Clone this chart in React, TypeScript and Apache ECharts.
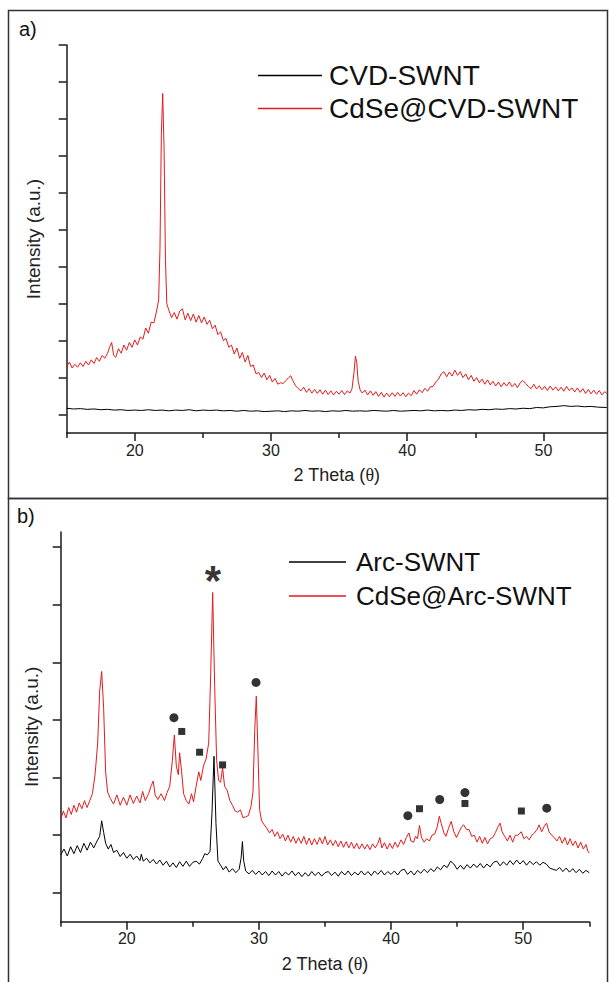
import React, { useEffect, useRef } from "react";
import * as echarts from "echarts";

// ---------- data (2θ in degrees, intensity in arbitrary units = y tick steps) ----------
const cvdSwnt: [number, number][] = [
  [15.0, 0.17], [15.5, 0.15], [16.0, 0.16], [16.5, 0.14], [17.0, 0.15], [17.5, 0.13], [18.0, 0.14], [18.5, 0.12],
  [19.0, 0.13], [19.5, 0.11], [20.0, 0.12], [20.5, 0.11], [21.0, 0.13], [21.5, 0.11], [22.0, 0.12], [22.5, 0.1],
  [23.0, 0.12], [23.5, 0.11], [24.0, 0.13], [24.5, 0.1], [25.0, 0.12], [25.5, 0.11], [26.0, 0.12], [26.5, 0.1],
  [27.0, 0.11], [27.5, 0.09], [28.0, 0.11], [28.5, 0.09], [29.0, 0.1], [29.5, 0.08], [30.0, 0.09], [30.5, 0.1],
  [31.0, 0.08], [31.5, 0.1], [32.0, 0.09], [32.5, 0.11], [33.0, 0.09], [33.5, 0.1], [34.0, 0.08], [34.5, 0.1],
  [35.0, 0.09], [35.5, 0.11], [36.0, 0.09], [36.5, 0.1], [37.0, 0.09], [37.5, 0.11], [38.0, 0.1], [38.5, 0.09],
  [39.0, 0.11], [39.5, 0.09], [40.0, 0.1], [40.5, 0.11], [41.0, 0.1], [41.5, 0.12], [42.0, 0.1], [42.5, 0.11],
  [43.0, 0.1], [43.5, 0.12], [44.0, 0.11], [44.5, 0.13], [45.0, 0.12], [45.5, 0.14], [46.0, 0.13], [46.5, 0.15],
  [47.0, 0.14], [47.5, 0.16], [48.0, 0.15], [48.5, 0.17], [49.0, 0.16], [49.5, 0.19], [50.0, 0.18], [50.5, 0.21],
  [51.0, 0.22], [51.5, 0.24], [52.0, 0.22], [52.5, 0.23], [53.0, 0.21], [53.5, 0.22], [54.0, 0.2], [54.65, 0.19],
];

const cdseCvdSwnt: [number, number][] = [
  [15.0, 1.3], [15.2, 1.42], [15.4, 1.26], [15.6, 1.36], [15.8, 1.28], [16.0, 1.4], [16.2, 1.3], [16.4, 1.44],
  [16.6, 1.34], [16.8, 1.48], [17.0, 1.38], [17.2, 1.54], [17.4, 1.44], [17.6, 1.6], [17.8, 1.52], [18.0, 1.66],
  [18.15, 1.82], [18.3, 1.95], [18.45, 1.6], [18.6, 1.55], [18.8, 1.78], [19.0, 1.66], [19.2, 1.88], [19.4, 1.74],
  [19.6, 1.95], [19.8, 1.82], [20.0, 2.02], [20.2, 1.88], [20.4, 2.1], [20.6, 2.04], [20.8, 2.34], [21.0, 2.2],
  [21.2, 2.5], [21.4, 2.48], [21.6, 2.8], [21.75, 3.1], [21.85, 4.5], [21.95, 7.6], [22.05, 8.69], [22.15, 7.2],
  [22.25, 4.2], [22.35, 3.0], [22.5, 2.82], [22.7, 2.62], [22.9, 2.76], [23.1, 2.58], [23.3, 2.8], [23.5, 2.86],
  [23.7, 2.56], [23.9, 2.74], [24.1, 2.54], [24.3, 2.72], [24.5, 2.5], [24.7, 2.68], [24.9, 2.48], [25.1, 2.64],
  [25.3, 2.44], [25.5, 2.55], [25.7, 2.32], [25.9, 2.42], [26.1, 2.16], [26.3, 2.24], [26.5, 2.0], [26.7, 2.06],
  [26.9, 1.82], [27.1, 1.88], [27.3, 1.64], [27.5, 1.8], [27.7, 1.52], [27.9, 1.68], [28.1, 1.42], [28.3, 1.6],
  [28.5, 1.3], [28.7, 1.34], [28.9, 1.1], [29.1, 1.14], [29.3, 1.0], [29.5, 1.12], [29.7, 0.94], [29.9, 1.06],
  [30.1, 0.88], [30.3, 0.98], [30.5, 0.82], [30.7, 0.86], [30.9, 0.84], [31.1, 0.92], [31.3, 1.0], [31.45, 1.05],
  [31.6, 0.92], [31.8, 0.78], [32.0, 0.7], [32.2, 0.64], [32.4, 0.74], [32.6, 0.6], [32.8, 0.7], [33.0, 0.58],
  [33.2, 0.68], [33.4, 0.57], [33.6, 0.67], [33.8, 0.55], [34.0, 0.66], [34.2, 0.54], [34.4, 0.64], [34.6, 0.53],
  [34.8, 0.63], [35.0, 0.55], [35.2, 0.65], [35.4, 0.54], [35.6, 0.64], [35.8, 0.58], [35.95, 0.7], [36.1, 1.15],
  [36.2, 1.58], [36.3, 1.4], [36.4, 0.9], [36.55, 0.66], [36.7, 0.58], [36.9, 0.66], [37.1, 0.53], [37.3, 0.64],
  [37.5, 0.52], [37.7, 0.62], [37.9, 0.49], [38.1, 0.6], [38.3, 0.47], [38.5, 0.58], [38.7, 0.48], [38.9, 0.59],
  [39.1, 0.49], [39.3, 0.6], [39.5, 0.5], [39.7, 0.59], [39.9, 0.48], [40.1, 0.58], [40.3, 0.51], [40.5, 0.65],
  [40.7, 0.55], [40.9, 0.67], [41.1, 0.59], [41.3, 0.71], [41.5, 0.63], [41.7, 0.75], [41.9, 0.76], [42.1, 0.88],
  [42.3, 0.96], [42.5, 1.1], [42.7, 1.16], [42.9, 1.02], [43.1, 1.15], [43.3, 1.04], [43.5, 1.2], [43.7, 1.06],
  [43.9, 1.16], [44.1, 1.0], [44.3, 1.1], [44.5, 0.94], [44.7, 1.06], [44.9, 0.9], [45.1, 1.0], [45.3, 0.86],
  [45.5, 0.96], [45.7, 0.82], [45.9, 0.94], [46.1, 0.8], [46.3, 0.9], [46.5, 0.77], [46.7, 0.88], [46.9, 0.75],
  [47.1, 0.86], [47.3, 0.77], [47.5, 0.88], [47.7, 0.75], [47.9, 0.84], [48.1, 0.73], [48.3, 0.86], [48.5, 0.92],
  [48.7, 0.84], [48.9, 0.76], [49.1, 0.7], [49.3, 0.82], [49.5, 0.69], [49.7, 0.78], [49.9, 0.67], [50.1, 0.76],
  [50.3, 0.65], [50.5, 0.77], [50.7, 0.66], [50.9, 0.75], [51.1, 0.64], [51.3, 0.74], [51.5, 0.63], [51.7, 0.76],
  [51.9, 0.65], [52.1, 0.72], [52.3, 0.61], [52.5, 0.72], [52.7, 0.6], [52.9, 0.7], [53.1, 0.57], [53.3, 0.68],
  [53.5, 0.56], [53.7, 0.66], [53.9, 0.55], [54.1, 0.65], [54.3, 0.53], [54.5, 0.62], [54.65, 0.57],
];

const arcSwnt: [number, number][] = [
  [15.0, 0.66], [15.25, 0.76], [15.5, 0.64], [15.75, 0.8], [16.0, 0.68], [16.25, 0.82], [16.5, 0.7], [16.75, 0.86],
  [17.0, 0.74], [17.25, 0.88], [17.5, 0.78], [17.75, 0.9], [17.95, 0.98], [18.1, 1.25], [18.25, 1.05], [18.4, 0.86],
  [18.6, 0.76], [18.8, 0.84], [19.0, 0.7], [19.25, 0.74], [19.5, 0.63], [19.75, 0.7], [20.0, 0.6], [20.25, 0.67],
  [20.5, 0.58], [20.75, 0.64], [21.0, 0.56], [21.1, 0.67], [21.25, 0.55], [21.5, 0.6], [21.75, 0.52], [22.0, 0.58],
  [22.25, 0.5], [22.5, 0.57], [22.75, 0.48], [23.0, 0.55], [23.25, 0.45], [23.5, 0.52], [23.75, 0.44], [24.0, 0.54],
  [24.25, 0.46], [24.5, 0.55], [24.75, 0.46], [25.0, 0.53], [25.25, 0.55], [25.5, 0.5], [25.75, 0.6], [25.9, 0.68],
  [26.1, 0.66], [26.3, 0.72], [26.45, 1.4], [26.6, 2.37], [26.75, 1.2], [26.9, 0.55], [27.1, 0.48], [27.3, 0.4],
  [27.5, 0.46], [27.75, 0.36], [28.0, 0.42], [28.25, 0.35], [28.5, 0.41], [28.65, 0.6], [28.75, 0.89], [28.85, 0.55],
  [29.0, 0.38], [29.25, 0.33], [29.5, 0.39], [29.75, 0.32], [30.0, 0.38], [30.25, 0.31], [30.5, 0.37], [30.75, 0.3],
  [31.0, 0.38], [31.25, 0.31], [31.5, 0.37], [31.75, 0.29], [32.0, 0.36], [32.25, 0.31], [32.5, 0.38], [32.75, 0.3],
  [33.0, 0.36], [33.25, 0.28], [33.5, 0.35], [33.75, 0.29], [34.0, 0.37], [34.25, 0.3], [34.5, 0.36], [34.75, 0.29],
  [35.0, 0.35], [35.25, 0.37], [35.5, 0.3], [35.75, 0.36], [36.0, 0.29], [36.25, 0.37], [36.5, 0.31], [36.75, 0.38],
  [37.0, 0.3], [37.25, 0.36], [37.5, 0.31], [37.75, 0.38], [38.0, 0.31], [38.25, 0.37], [38.5, 0.3], [38.75, 0.38],
  [39.0, 0.32], [39.25, 0.39], [39.5, 0.31], [39.75, 0.37], [40.0, 0.32], [40.25, 0.38], [40.5, 0.31], [40.75, 0.39],
  [41.0, 0.41], [41.25, 0.32], [41.5, 0.38], [41.75, 0.31], [42.0, 0.39], [42.25, 0.34], [42.5, 0.41], [42.75, 0.35],
  [43.0, 0.42], [43.25, 0.37], [43.5, 0.45], [43.75, 0.4], [44.0, 0.48], [44.25, 0.44], [44.5, 0.55], [44.75, 0.5],
  [45.0, 0.41], [45.25, 0.48], [45.5, 0.41], [45.75, 0.49], [46.0, 0.43], [46.25, 0.5], [46.5, 0.44], [46.75, 0.51],
  [47.0, 0.43], [47.25, 0.5], [47.5, 0.45], [47.75, 0.53], [48.0, 0.55], [48.25, 0.47], [48.5, 0.54], [48.75, 0.48],
  [49.0, 0.56], [49.25, 0.49], [49.5, 0.57], [49.75, 0.5], [50.0, 0.56], [50.25, 0.48], [50.5, 0.55], [50.75, 0.49],
  [51.0, 0.54], [51.25, 0.48], [51.5, 0.53], [51.75, 0.5], [52.0, 0.43], [52.25, 0.41], [52.5, 0.39], [52.75, 0.44],
  [53.0, 0.37], [53.25, 0.43], [53.5, 0.36], [53.75, 0.42], [54.0, 0.35], [54.25, 0.41], [54.5, 0.34], [54.75, 0.39],
  [55.0, 0.35],
];

const cdseArcSwnt: [number, number][] = [
  [15.0, 1.27], [15.2, 1.42], [15.4, 1.3], [15.6, 1.48], [15.8, 1.36], [16.0, 1.52], [16.2, 1.4], [16.4, 1.56],
  [16.6, 1.46], [16.8, 1.6], [17.0, 1.48], [17.2, 1.6], [17.4, 1.72], [17.6, 2.05], [17.8, 2.6], [17.95, 3.5],
  [18.1, 3.84], [18.25, 3.2], [18.4, 2.1], [18.55, 1.75], [18.75, 1.64], [19.0, 1.54], [19.25, 1.7], [19.5, 1.52],
  [19.75, 1.66], [20.0, 1.52], [20.25, 1.7], [20.5, 1.55], [20.75, 1.68], [21.0, 1.56], [21.2, 1.76], [21.4, 1.6],
  [21.65, 1.72], [21.85, 1.86], [22.0, 1.94], [22.15, 1.7], [22.35, 1.62], [22.6, 1.72], [22.85, 1.6], [23.05, 1.74],
  [23.25, 1.85], [23.45, 2.3], [23.6, 2.74], [23.75, 2.2], [23.9, 2.05], [24.0, 2.43], [24.15, 2.1], [24.3, 1.72],
  [24.5, 1.6], [24.7, 1.54], [24.9, 1.72], [25.05, 1.58], [25.25, 1.85], [25.45, 2.1], [25.6, 1.95], [25.8, 2.2],
  [26.0, 2.32], [26.2, 2.6], [26.35, 3.8], [26.5, 5.21], [26.65, 3.6], [26.8, 2.3], [26.95, 1.95], [27.1, 1.92],
  [27.25, 2.17], [27.4, 1.85], [27.6, 1.78], [27.8, 1.6], [28.0, 1.52], [28.2, 1.42], [28.4, 1.4], [28.6, 1.44],
  [28.8, 1.3], [29.0, 1.32], [29.2, 1.34], [29.4, 1.5], [29.55, 1.75], [29.68, 2.8], [29.8, 3.41], [29.92, 2.5],
  [30.05, 1.45], [30.2, 1.25], [30.4, 1.18], [30.6, 1.12], [30.8, 1.04], [31.0, 1.1], [31.2, 0.98], [31.4, 1.06],
  [31.6, 0.94], [31.8, 1.02], [32.0, 0.9], [32.2, 1.0], [32.4, 0.88], [32.6, 0.98], [32.8, 0.86], [33.0, 0.96],
  [33.2, 0.86], [33.4, 0.98], [33.6, 0.84], [33.8, 0.95], [34.0, 0.83], [34.2, 0.94], [34.4, 0.84], [34.6, 0.96],
  [34.8, 0.85], [35.0, 0.98], [35.2, 0.83], [35.4, 0.92], [35.6, 0.82], [35.8, 0.91], [36.0, 0.8], [36.2, 0.9],
  [36.4, 0.79], [36.6, 0.89], [36.8, 0.78], [37.0, 0.88], [37.2, 0.77], [37.4, 0.86], [37.6, 0.76], [37.8, 0.85],
  [38.0, 0.76], [38.2, 0.84], [38.4, 0.75], [38.6, 0.85], [38.8, 0.78], [39.0, 0.86], [39.15, 0.96], [39.3, 0.78],
  [39.5, 0.87], [39.7, 0.76], [39.9, 0.86], [40.1, 0.77], [40.3, 0.88], [40.5, 0.79], [40.75, 0.92], [40.95, 0.84],
  [41.15, 0.96], [41.35, 1.04], [41.5, 0.9], [41.7, 0.88], [41.85, 0.98], [42.0, 0.94], [42.15, 1.17], [42.3, 0.96],
  [42.5, 0.88], [42.7, 0.94], [42.9, 0.9], [43.1, 1.0], [43.3, 1.02], [43.5, 1.15], [43.65, 1.33], [43.8, 1.2],
  [44.0, 1.04], [44.15, 0.98], [44.35, 1.12], [44.55, 1.24], [44.75, 1.06], [44.95, 0.96], [45.15, 1.06], [45.35, 1.15],
  [45.5, 1.18], [45.7, 1.1], [45.9, 1.1], [46.1, 0.98], [46.3, 1.0], [46.5, 0.88], [46.7, 0.98], [46.9, 0.86],
  [47.1, 0.96], [47.3, 0.85], [47.5, 0.94], [47.7, 0.96], [47.9, 1.05], [48.1, 1.15], [48.25, 1.21], [48.4, 1.06],
  [48.6, 0.98], [48.8, 0.9], [49.0, 1.0], [49.2, 0.88], [49.4, 1.0], [49.6, 1.0], [49.85, 1.06], [50.05, 0.94],
  [50.25, 0.98], [50.45, 0.92], [50.65, 1.0], [50.85, 1.04], [51.05, 1.1], [51.2, 1.18], [51.4, 1.06], [51.6, 1.16],
  [51.77, 1.21], [51.95, 1.06], [52.15, 1.0], [52.35, 0.96], [52.55, 0.9], [52.75, 0.98], [52.95, 0.86], [53.15, 0.96],
  [53.35, 0.83], [53.55, 0.94], [53.75, 0.82], [53.95, 0.9], [54.15, 0.78], [54.35, 0.88], [54.55, 0.76], [54.75, 0.84],
  [54.9, 0.72], [55.0, 0.69],
];

// phase markers in panel b
const circleMarks: [number, number][] = [
  [23.57, 3.04], [29.78, 3.65], [41.27, 1.34], [43.68, 1.62], [45.59, 1.74], [51.78, 1.47],
];
const squareMarks: [number, number][] = [
  [24.16, 2.8], [25.51, 2.44], [27.25, 2.22], [42.15, 1.46], [45.59, 1.55], [49.86, 1.42],
];
const asteriskMarks: [number, number][] = [[26.52, 5.59]];

// ticks
const majorXTicks = [20, 30, 40, 50];
const minorXTicks = [15, 25, 35, 45, 55];
const topYTicks = [0, 1, 2, 3, 4, 5, 6, 7, 8, 9, 10];
const bottomYTicks = [0, 1, 2, 3, 4, 5, 6];

const legendA = ["CVD-SWNT", "CdSe@CVD-SWNT"];
const legendB = ["Arc-SWNT", "CdSe@Arc-SWNT"];

const FONT = 'Arial, "Liberation Sans", sans-serif';
const SERIF = '"Liberation Serif", "DejaVu Serif", serif';
const RED = "#e41a1c";
const BLACK = "#000000";
const AXIS = "#1a1a1a";

function xAxisPair(gridIndex: number, max: number, nameGap: number) {
  const lineStyle = { color: AXIS, width: 1.5 };
  return [
    {
      gridIndex,
      type: "value",
      position: "bottom",
      min: 15,
      max,
      axisLine: { show: true, onZero: false, lineStyle },
      axisTick: { show: true, customValues: majorXTicks, length: 8, lineStyle },
      axisLabel: { show: true, customValues: majorXTicks, fontSize: 16, fontFamily: FONT, color: "#222", margin: 9 },
      splitLine: { show: false },
      name: "2 Theta ({t|θ})",
      nameLocation: "middle",
      nameGap,
      nameTextStyle: {
        fontSize: 18,
        fontFamily: FONT,
        color: "#222",
        rich: { t: { fontSize: 18, fontFamily: SERIF, color: "#222" } },
      },
    },
    {
      gridIndex,
      type: "value",
      position: "bottom",
      min: 15,
      max,
      axisLine: { show: false, onZero: false },
      axisTick: { show: true, customValues: minorXTicks, length: 5, lineStyle },
      axisLabel: { show: false },
      splitLine: { show: false },
    },
  ];
}

function yAxisFor(gridIndex: number, max: number, ticks: number[], nameGap: number) {
  const lineStyle = { color: AXIS, width: 1.5 };
  return {
    gridIndex,
    type: "value",
    min: -0.5,
    max,
    axisLine: { show: true, onZero: false, lineStyle },
    axisTick: { show: true, customValues: ticks, length: 8, lineStyle },
    axisLabel: { show: false },
    splitLine: { show: false },
    name: "Intensity (a.u.)",
    nameLocation: "middle",
    nameRotate: 90,
    nameGap,
    nameTextStyle: { fontSize: 19, fontFamily: FONT, color: "#222" },
  };
}

function lineSeries(name: string, data: [number, number][], color: string, xi: number, yi: number, z: number) {
  return {
    type: "line",
    name,
    data,
    xAxisIndex: xi,
    yAxisIndex: yi,
    color,
    showSymbol: false,
    symbol: "none",
    z,
    lineStyle: { color, width: 1 },
    itemStyle: { color },
  };
}

export default function App() {
  const ref = useRef<HTMLDivElement>(null);

  useEffect(() => {
    if (!ref.current) return;
    const chart = echarts.init(ref.current, undefined, { renderer: "svg" });
    const option: any = {
      animation: false,
      backgroundColor: "#ffffff",
      grid: [
        { left: 66.7, right: 2.3, top: 45, bottom: 549 },
        { left: 60.7, right: 19.7, top: 532, bottom: 60.3 },
      ],
      xAxis: [...xAxisPair(0, 54.65, 33), ...xAxisPair(1, 55, 33)],
      yAxis: [yAxisFor(0, 10, topYTicks, 24), yAxisFor(1, 6.26, bottomYTicks, 20)],
      legend: [
        {
          data: legendA,
          orient: "vertical",
          left: 258,
          top: 59,
          padding: 0,
          itemGap: 0,
          itemWidth: 64,
          itemHeight: 1.5,
          icon: "rect",
          selectedMode: false,
          textStyle: { fontSize: 28, fontFamily: FONT, color: "#111", lineHeight: 33, padding: [0, 0, 0, 2] },
        },
        {
          data: legendB,
          orient: "vertical",
          left: 289,
          top: 545,
          padding: 0,
          itemGap: 0,
          itemWidth: 57,
          itemHeight: 1.5,
          icon: "rect",
          selectedMode: false,
          textStyle: { fontSize: 26, fontFamily: FONT, color: "#111", lineHeight: 34, padding: [0, 0, 0, 5] },
        },
      ],
      series: [
        lineSeries("CVD-SWNT", cvdSwnt, BLACK, 0, 0, 3),
        lineSeries("CdSe@CVD-SWNT", cdseCvdSwnt, RED, 0, 0, 2),
        lineSeries("CdSe@Arc-SWNT", cdseArcSwnt, RED, 2, 1, 2),
        lineSeries("Arc-SWNT", arcSwnt, BLACK, 2, 1, 3),
        {
          type: "scatter",
          name: "circles",
          data: circleMarks,
          xAxisIndex: 2,
          yAxisIndex: 1,
          symbol: "circle",
          symbolSize: 9,
          itemStyle: { color: "#000" },
          z: 5,
        },
        {
          type: "scatter",
          name: "squares",
          data: squareMarks,
          xAxisIndex: 2,
          yAxisIndex: 1,
          symbol: "rect",
          symbolSize: 7,
          itemStyle: { color: "#000" },
          z: 5,
        },
        {
          type: "scatter",
          name: "asterisk",
          data: asteriskMarks,
          xAxisIndex: 2,
          yAxisIndex: 1,
          symbol: "circle",
          symbolSize: 1,
          itemStyle: { color: "rgba(0,0,0,0)" },
          label: {
            show: true,
            formatter: "*",
            position: "inside",
            fontSize: 42,
            fontWeight: "bold",
            fontFamily: FONT,
            color: "#000",
            offset: [0, 10],
          },
          z: 5,
        },
      ],
      graphic: [
        {
          type: "rect",
          silent: true,
          shape: { x: 8.5, y: 10.5, width: 599, height: 488 },
          style: { fill: "none", stroke: "#333", lineWidth: 1.5 },
        },
        {
          type: "rect",
          silent: true,
          shape: { x: 8.5, y: 498.5, width: 599, height: 500 },
          style: { fill: "none", stroke: "#333", lineWidth: 1.5 },
        },
        { type: "text", left: 19, top: 19, style: { text: "a)", fontSize: 20, fontFamily: FONT, fill: "#111" } },
        { type: "text", left: 17, top: 506, style: { text: "b)", fontSize: 20, fontFamily: FONT, fill: "#111" } },
      ],
    };
    chart.setOption(option);
    return () => chart.dispose();
  }, []);

  return (
    <div
      ref={ref}
      style={{ position: "fixed", left: 0, top: 0, width: "609px", height: "982px", background: "#fff" }}
    />
  );
}
